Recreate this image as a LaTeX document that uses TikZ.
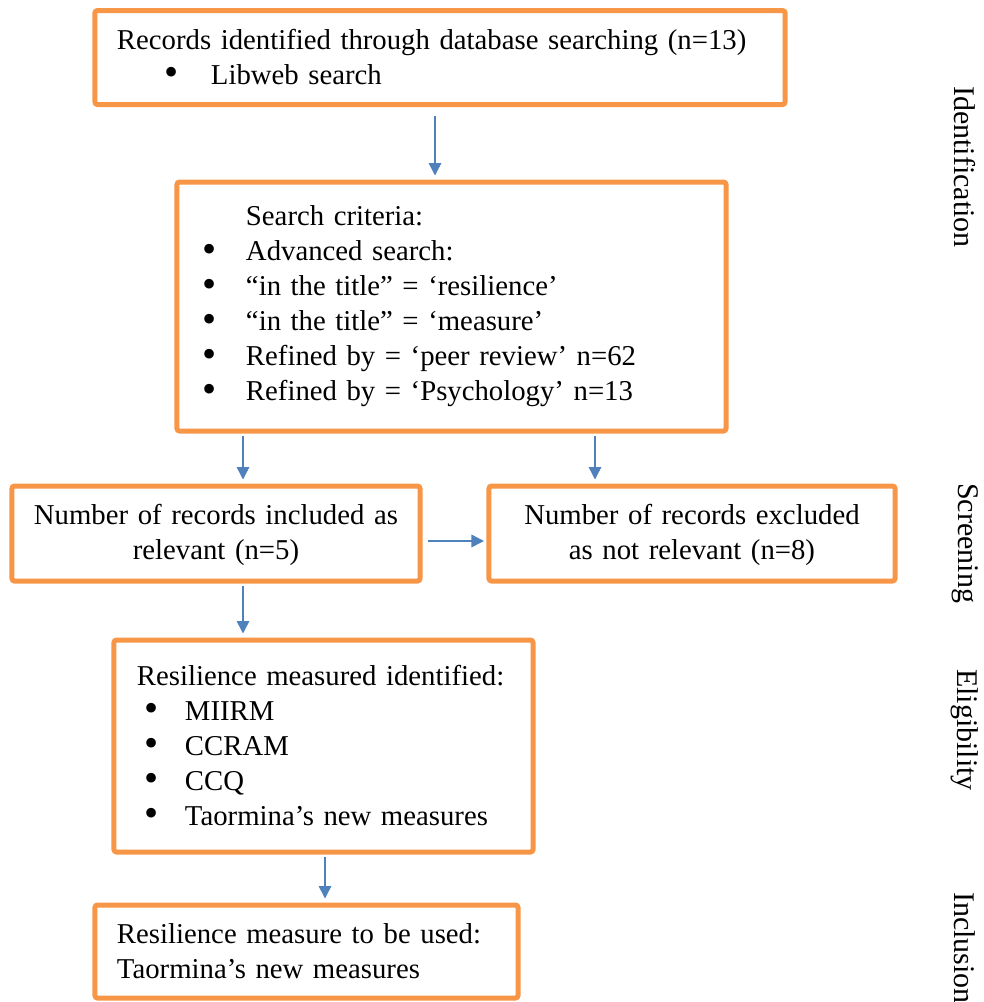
\documentclass[tikz,border=0pt]{standalone}
\usepackage{fontspec}
\usepackage{graphicx}
\setmainfont{Liberation Serif}
\usetikzlibrary{arrows.meta, positioning}
\definecolor{boxorange}{HTML}{F79646}
\definecolor{arrowblue}{HTML}{4F81BD}
\newcommand{\bul}[2]{\hspace*{#1}\makebox[#2][l]{\raisebox{-0.6pt}{\scalebox{1.4}{\textbullet}}}}

\begin{document}
\begin{tikzpicture}[x=0.4pt, y=-0.4pt, every node/.style={font=\fontsize{11.5}{14}\selectfont},
	box/.style={draw=boxorange, line width=2pt, rounded corners=1pt, fill=white, inner ysep=0pt},
	side/.style={rotate=-90, font=\fontsize{12}{14}\selectfont},
	arr/.style={draw=arrowblue, line width=0.6pt, -{Triangle[length=5pt,width=5pt]}, shorten <=1pt, shorten >=1.6pt}]
\useasboundingbox (0,0) rectangle (983,1002);
\node[box, text width=258.4pt, inner xsep=8.8pt, minimum height=37.6pt, align=left] (records) at (440,57.5) {Records identified through database searching (n=13)\\ \bul{19.2pt}{18.4pt}Libweb search};
\node[box, text width=198.8pt, inner xsep=10.4pt, minimum height=99.6pt, align=left] (criteria) at (451.5,306.5) {\hspace*{17.2pt}Search criteria:\\
	\bul{0pt}{17.2pt}Advanced search:\\
	\bul{0pt}{17.2pt}“in the title” = ‘resilience’\\
	\bul{0pt}{17.2pt}“in the title” = ‘measure’\\
	\bul{0pt}{17.2pt}Refined by = ‘peer review’ n=62\\
	\bul{0pt}{17.2pt}Refined by = ‘Psychology’ n=13};
\node[box, text width=158pt, inner xsep=2pt, minimum width=163.2pt, minimum height=38pt, align=center] (included) at (216,533.5) {\rule{0pt}{9pt}Number of records included as\\ relevant (n=5)};
\node[box, text width=158pt, inner xsep=2pt, minimum width=162.4pt, minimum height=38pt, align=center] (excluded) at (692,533.5) {\rule{0pt}{9pt}Number of records excluded\\ as not relevant (n=8)};
\node[box, text width=151.6pt, inner xsep=8pt, minimum height=84.8pt, align=left] (measures) at (323.5,746) {\hspace*{1.2pt}Resilience measured identified:\\
	\bul{4.4pt}{16pt}MIIRM\\
	\bul{4.4pt}{16pt}CCRAM\\
	\bul{4.4pt}{16pt}CCQ\\
	\bul{4.4pt}{16pt}Taormina’s new measures};
\node[box, text width=151.6pt, inner xsep=8.8pt, minimum height=37.2pt, align=left] (used) at (306.5,951.5) {Resilience measure to be used:\\ Taormina’s new measures};

\node[side] (ident) at (965,167) {Identification};
\node[side] (screen) at (965,543) {Screening};
\node[side] (elig) at (965,730) {Eligibility};
\node[side] (incl) at (965,948) {Inclusion};

\draw[arr, shorten <=3.6pt] ([xshift=-2pt]records.south) -- ([xshift=-2pt]records.south |- criteria.north);
\draw[arr] ([xshift=-83.4pt]criteria.south) -- ([xshift=-83.4pt]criteria.south |- included.north);
\draw[arr] ([xshift=57.4pt]criteria.south) -- ([xshift=57.4pt]criteria.south |- excluded.north);
\draw[arr, shorten <=2pt, shorten >=1pt] ([yshift=-3pt]included.east) -- ([yshift=-3pt]included.east -| excluded.west);
\draw[arr] ([xshift=10.8pt]included.south) -- ([xshift=10.8pt]included.south |- measures.north);
\draw[arr] ([xshift=0.6pt]measures.south) -- ([xshift=0.6pt]measures.south |- used.north);
\end{tikzpicture}
\end{document}
